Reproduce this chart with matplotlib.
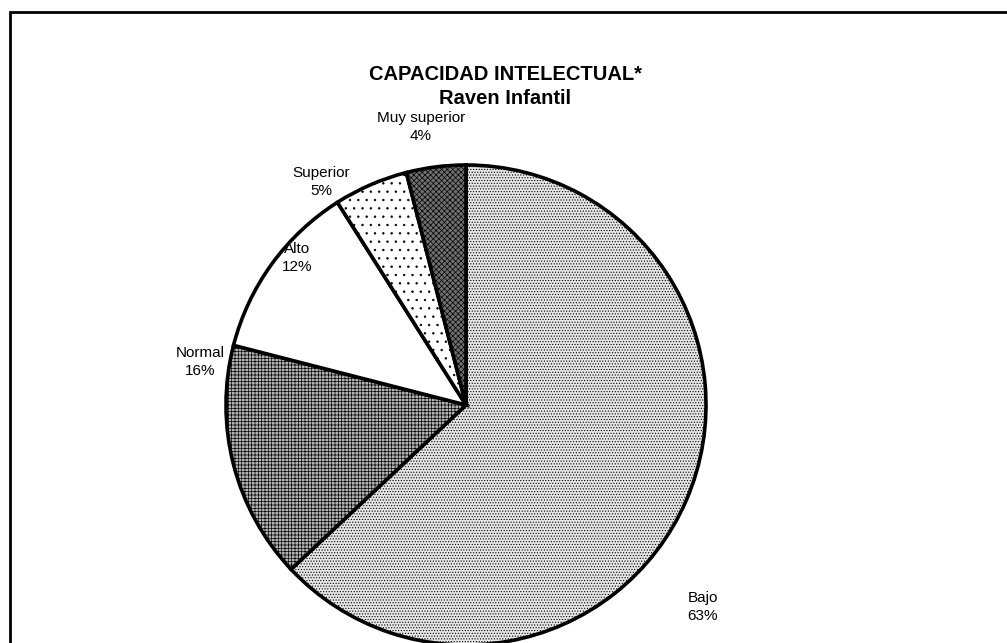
import matplotlib
matplotlib.use("Agg")
import matplotlib.pyplot as plt
from matplotlib.patches import Rectangle

# data
categorias = ["Bajo", "Normal", "Alto", "Superior", "Muy superior"]
porcentajes = [63, 16, 12, 5, 4]
hatches = ["......", "+++++", "", "..", "xxxxxx"]
fondos = ["#e6e6e6", "#b4b4b4", "white", "white", "#707070"]

# label centres in pixels (x, y from top)
label_pos = [(703, 607), (200, 362), (297, 258), (321, 182), (421, 127)]

W, H = 1007, 643
plt.rcParams['font.family'] = ['Liberation Sans', 'DejaVu Sans']
plt.rcParams['hatch.linewidth'] = 0.5

fig = plt.figure(figsize=(W / 100, H / 100), dpi=100)
ax = fig.add_axes([0, 0, 1, 1])

wedges, _ = ax.pie(porcentajes, startangle=90, counterclock=False,
                   center=(466, H - 405), radius=240,
                   wedgeprops=dict(edgecolor="black", linewidth=2.6))
for w, h, c in zip(wedges, hatches, fondos):
    w.set_facecolor(c)
    w.set_hatch(h)

ax.set_xlim(0, W)
ax.set_ylim(0, H)
ax.set_aspect("equal")
ax.axis("off")

# outer frame (only top and left edges fall inside the picture)
ax.add_patch(Rectangle((10, -20), W + 20, H - 12 + 20, fill=False,
                       edgecolor="black", linewidth=2, clip_on=False))

ax.text(505, H - 75, "CAPACIDAD INTELECTUAL*", ha="center", va="center",
        fontsize=14.5, fontweight="bold")
ax.text(505, H - 98, "Raven Infantil", ha="center", va="center",
        fontsize=14.5, fontweight="bold")

for cat, p, (x, y) in zip(categorias, porcentajes, label_pos):
    ax.text(x, H - y, f"{cat}\n{p}%", ha="center", va="center",
            fontsize=11, linespacing=1.45)

fig.savefig("out.png", dpi=100)
